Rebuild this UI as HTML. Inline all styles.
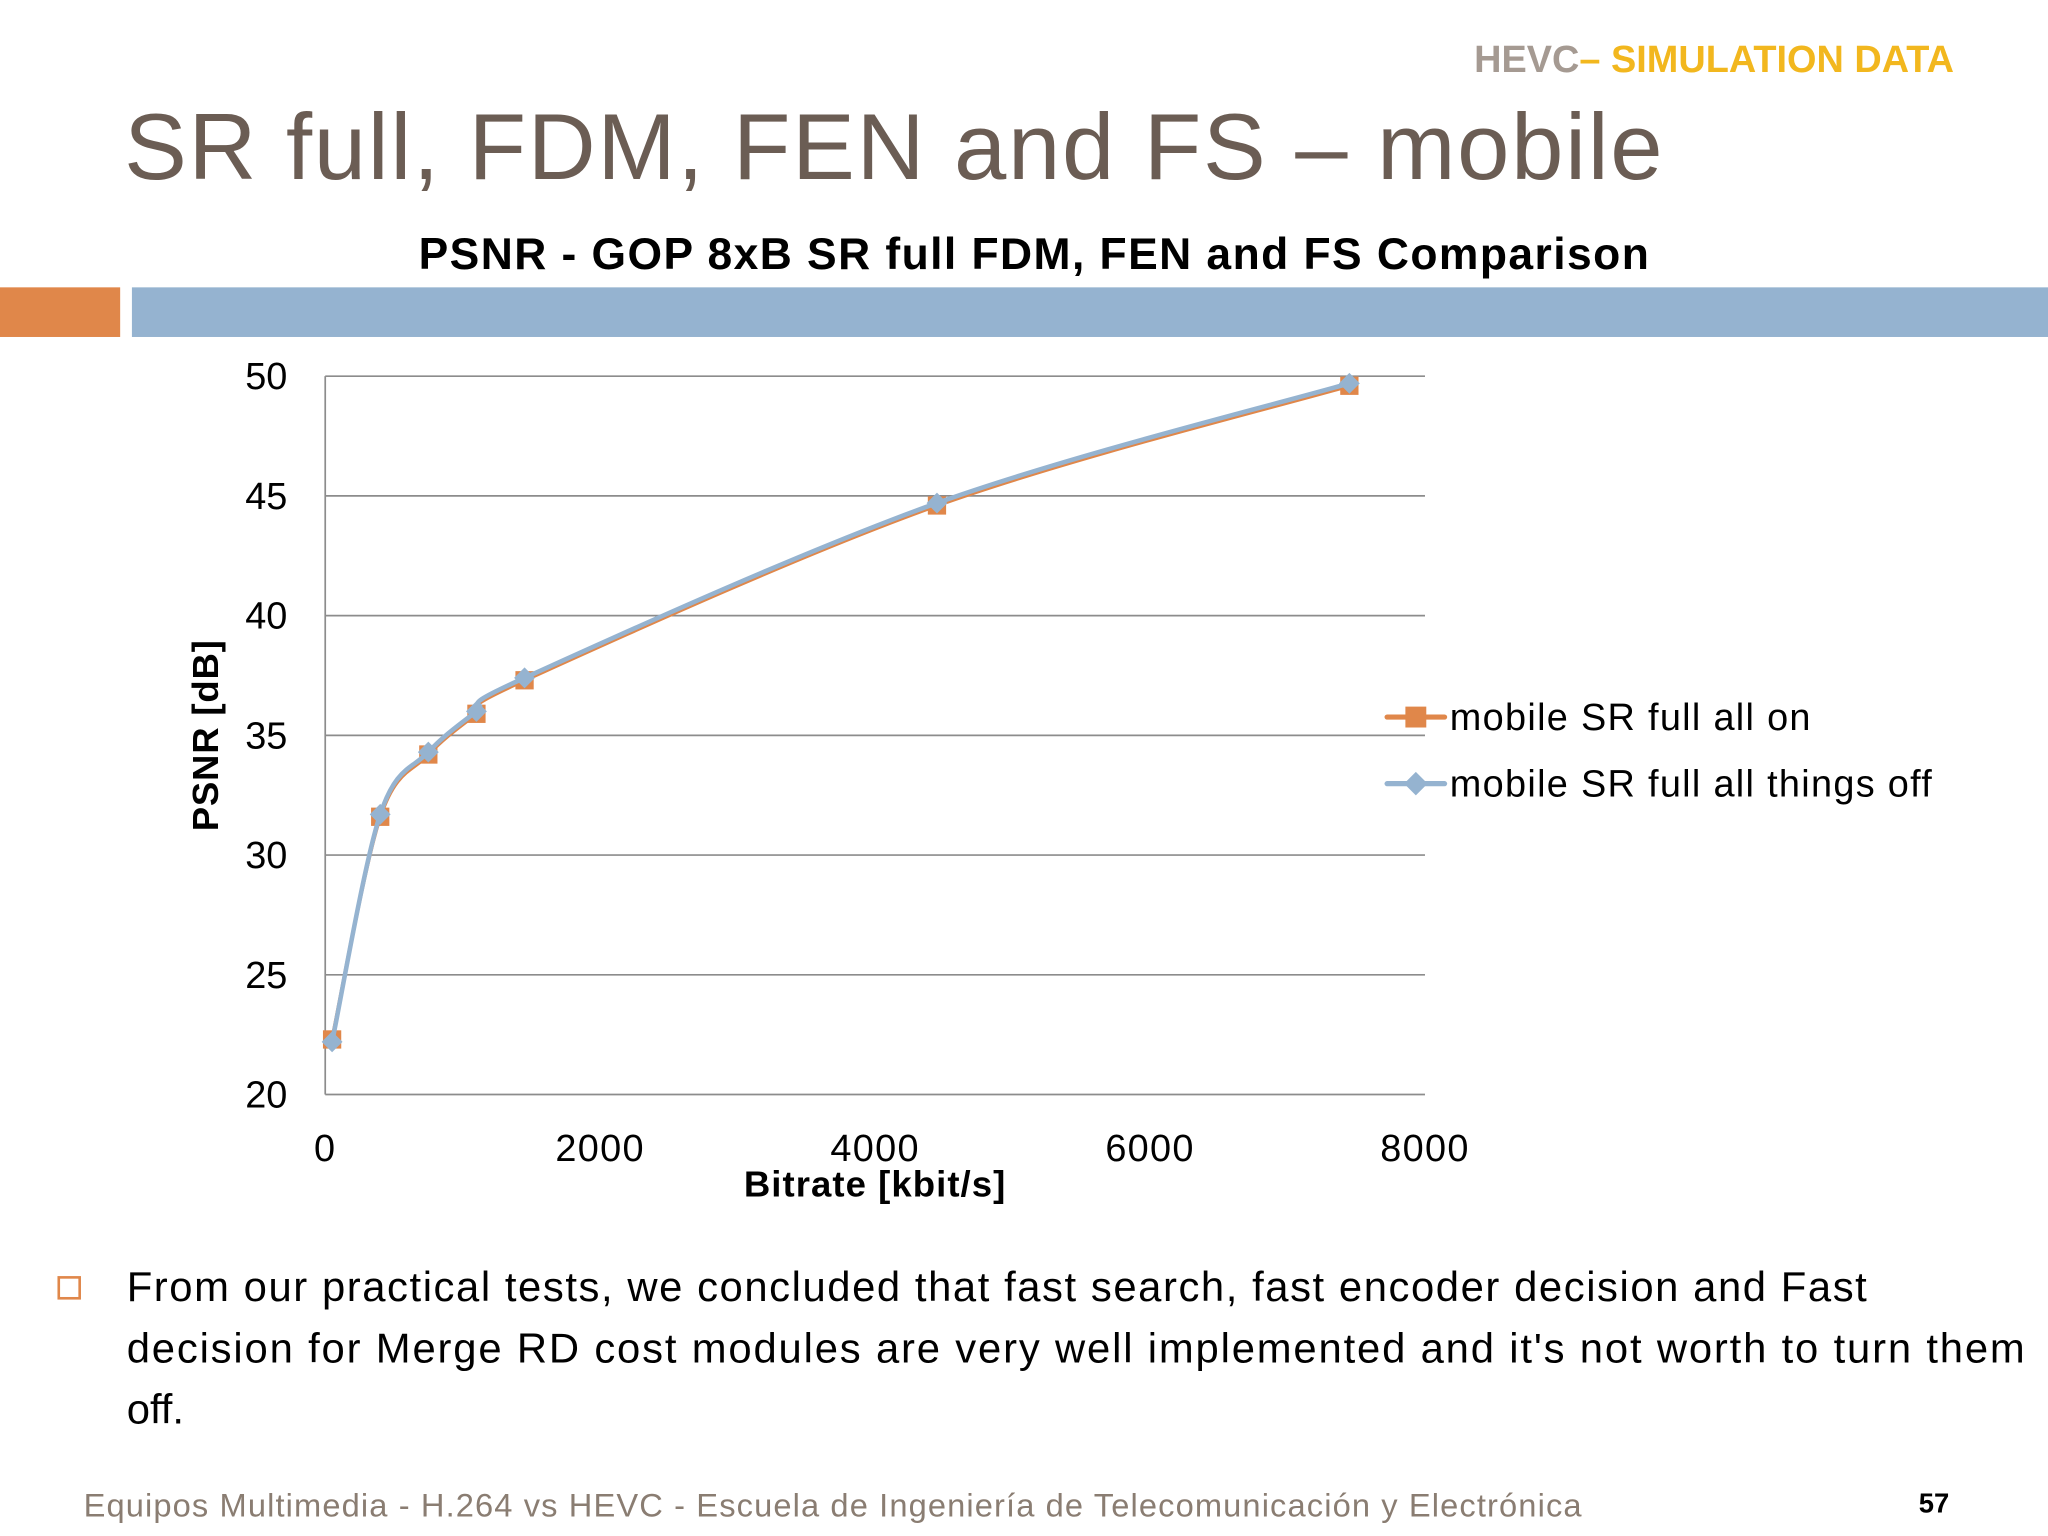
<!DOCTYPE html>
<html><head><meta charset="utf-8"><style>
html,body{margin:0;padding:0;background:#fff;}
#page{position:relative;width:1568px;height:1176px;transform:scale(1.306122);transform-origin:0 0;font-family:"Liberation Sans",sans-serif;overflow:hidden;}
.t{position:absolute;white-space:nowrap;}
</style></head><body>
<div id="page">
<div class="t" style="right:72px;top:30px;font-size:29px;font-weight:bold;color:#a59a92;">HEVC<span style="color:#f2b71e">– SIMULATION DATA</span></div>
<div class="t" style="left:95px;top:72px;font-size:72px;color:#6b5d54;letter-spacing:1.3px;">SR full, FDM, FEN and FS – mobile</div>
<div class="t" style="left:0;width:1584px;text-align:center;top:176px;font-size:34px;font-weight:bold;color:#000;letter-spacing:1.1px;">PSNR - GOP 8xB SR full FDM, FEN and FS Comparison</div>
<div style="position:absolute;left:0;top:220px;width:92px;height:38px;background:#e0874a"></div>
<div style="position:absolute;left:101px;top:220px;width:1467px;height:38px;background:#95b3d0"></div>
<svg id="chart" width="1568" height="1176" style="position:absolute;left:0;top:0" font-family="Liberation Sans, sans-serif"></svg>
<div class="t" style="left:44px;top:977px;width:14px;height:14px;border:2px solid #e0874a;"></div>
<div style="position:absolute;left:97px;top:962px;width:1470px;font-size:32px;line-height:47px;color:#000;white-space:nowrap;"><span style="letter-spacing:1.2px">From our practical tests, we concluded that fast search, fast encoder decision and Fast</span><br><span style="letter-spacing:1.4px">decision for Merge RD cost modules are very well implemented and it's not worth to turn them</span><br><span>off.</span></div>
<div class="t" style="left:64px;top:1139px;font-size:25px;color:#8a7d72;letter-spacing:0.85px;">Equipos Multimedia - H.264 vs HEVC - Escuela de Ingeniería de Telecomunicación y Electrónica</div>
<div class="t" style="left:1469px;top:1140px;font-size:21px;font-weight:bold;color:#000;">57</div>
</div>
<script>
const xTicks=[0,2000,4000,6000,8000];
const yTicks=[20,25,30,35,40,45,50];
const bitrateOn=[50,400,750,1100,1450,4450,7450];
const psnrOn=[22.3,31.6,34.2,35.9,37.3,44.6,49.6];
const bitrateOff=[50,400,750,1100,1450,4450,7450];
const psnrOff=[22.2,31.7,34.3,36.0,37.4,44.7,49.7];
const X0=249,X1=1091,Y0=838,Y1=288;
const xs=v=>X0+(v-0)/8000*(X1-X0);
const ys=v=>Y0-(v-20)/30*(Y0-Y1);
const svg=document.getElementById('chart');
const NS='http://www.w3.org/2000/svg';
function mk(tag,attrs,parent){const e=document.createElementNS(NS,tag);for(const k in attrs)e.setAttribute(k,attrs[k]);(parent||svg).appendChild(e);return e;}
yTicks.forEach(v=>{
  const l=mk('line',{x1:X0,x2:X1,y1:ys(v),y2:ys(v),stroke:'#8c8c8c','stroke-width':1.3});
  
  
  const t=mk('text',{x:220,y:ys(v)+10,'text-anchor':'end','font-size':29,fill:'#000'});
  t.textContent=v;
  
  
});
const ax=mk('line',{x1:X0,x2:X0,y1:Y1,y2:Y0,stroke:'#8c8c8c','stroke-width':1.3});


xTicks.forEach(v=>{
  const t=mk('text',{x:xs(v),y:889,'text-anchor':'middle','font-size':29,fill:'#000','letter-spacing':1});
  t.textContent=v;
  
  
});
const xt=mk('text',{x:670,y:916,'text-anchor':'middle','font-size':28,'font-weight':'bold',fill:'#000','letter-spacing':0.8});
xt.textContent='Bitrate [kbit/s]';


const yt=mk('text',{x:0,y:0,'text-anchor':'middle','font-size':28,'font-weight':'bold',fill:'#000',transform:'translate(167,563) rotate(-90)','letter-spacing':0.6});
yt.textContent='PSNR [dB]';


function curve(xa,ya){
  const p=xa.map((x,i)=>[xs(x),ys(ya[i])]);
  let d='M'+p[0][0]+','+p[0][1];
  for(let i=0;i<p.length-1;i++){
    const p0=p[i-1]||p[i],p1=p[i],p2=p[i+1],p3=p[i+2]||p2;
    const c1=[p1[0]+(p2[0]-p0[0])/6,p1[1]+(p2[1]-p0[1])/6];
    const c2=[p2[0]-(p3[0]-p1[0])/6,p2[1]-(p3[1]-p1[1])/6];
    d+=` C${c1[0]},${c1[1]} ${c2[0]},${c2[1]} ${p2[0]},${p2[1]}`;
  }
  return d;
}
const lOn=mk('path',{d:curve(bitrateOn,psnrOn),fill:'none',stroke:'#e0874a','stroke-width':3});


bitrateOn.forEach((b,i)=>{
  const r=mk('rect',{x:xs(b)-7,y:ys(psnrOn[i])-7,width:14,height:14,fill:'#e0874a'});
  
  
});
const lOff=mk('path',{d:curve(bitrateOff,psnrOff),fill:'none',stroke:'#95b3d0','stroke-width':3.5});


bitrateOff.forEach((b,i)=>{
  const x=xs(b),y=ys(psnrOff[i]);
  const r=mk('polygon',{points:`${x},${y-8} ${x+8},${y} ${x},${y+8} ${x-8},${y}`,fill:'#95b3d0'});
  
  
});
const legend=[['mobile SR full all on','#e0874a','sq',549],['mobile SR full all things off','#95b3d0','di',600]];
legend.forEach(([txt,c,m,y])=>{
  const g=mk('g',{});
  
  
  mk('line',{x1:1062,x2:1106,y1:y,y2:y,stroke:c,'stroke-width':4,'stroke-linecap':'round'},g);
  if(m==='sq') mk('rect',{x:1076,y:y-8,width:16,height:16,fill:c},g);
  else mk('polygon',{points:`1084,${y-9} 1093,${y} 1084,${y+9} 1075,${y}`,fill:c},g);
  const t=mk('text',{x:1110,y:y+10,'font-size':29,fill:'#000','letter-spacing':1},g);
  t.textContent=txt;
});
</script>
</body></html>
